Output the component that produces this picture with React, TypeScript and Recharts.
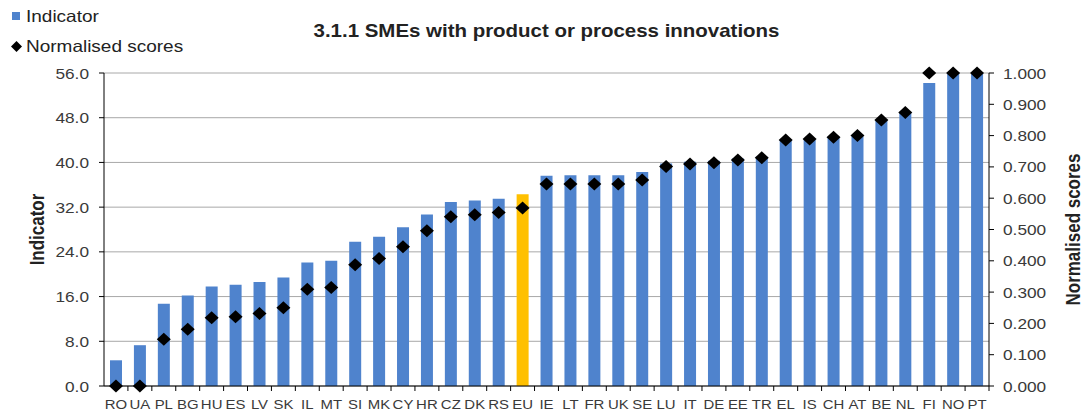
import React from 'react';
import { ComposedChart, Bar, Line, XAxis, YAxis, CartesianGrid, Cell } from 'recharts';

const categories = ['RO','UA','PL','BG','HU','ES','LV','SK','IL','MT','SI','MK','CY','HR','CZ','DK','RS','EU','IE','LT','FR','UK','SE','LU','IT','DE','EE','TR','EL','IS','CH','AT','BE','NL','FI','NO','PT'];
const indicator = [4.6,7.3,14.7,16.2,17.8,18.1,18.6,19.4,22.1,22.4,25.8,26.7,28.4,30.7,32.9,33.2,33.5,34.3,37.6,37.7,37.7,37.7,38.3,39.8,40.1,40.3,40.7,41.0,44.0,44.2,44.6,44.7,47.6,48.9,54.2,56.0,56.0];
const normalised = [0.0,0.0,0.149,0.181,0.218,0.221,0.232,0.25,0.309,0.315,0.387,0.407,0.445,0.496,0.541,0.547,0.554,0.569,0.645,0.645,0.645,0.645,0.658,0.701,0.709,0.713,0.722,0.729,0.786,0.789,0.795,0.8,0.85,0.874,1.0,1.0,1.0];
const leftTicks = [0,8,16,24,32,40,48,56];
const rightTicks = [0,0.1,0.2,0.3,0.4,0.5,0.6,0.7,0.8,0.9,1.0];
const highlight = 'EU';

const data = categories.map((c, i) => ({ name: c, indicator: indicator[i], score: normalised[i] }));

const W = 1085;
const H = 411;
const LEFT_W = 104;
const RIGHT_W = 96;
const TOP = 73;
const XH = 25;
const PLOT_W = W - LEFT_W - RIGHT_W;
const AXIS_Y = H - XH;
const STEP = PLOT_W / categories.length;
const SX = 1.15;
const BLUE = '#4F83CD';
const YELLOW = '#FFC000';
const FONT = '"Liberation Sans", Arial, sans-serif';
const TXT = '#3a3a3a';

const Diamond = (props: any) => {
  const { cx, cy } = props;
  if (cx == null || cy == null) return null;
  const rx = 7;
  const ry = 6.5;
  return <polygon points={`${cx},${cy - ry} ${cx + rx},${cy} ${cx},${cy + ry} ${cx - rx},${cy}`} fill="#000" />;
};

const XTick = (props: any) => {
  const { x, payload } = props;
  return (
    <g>
      <line x1={x + STEP / 2} x2={x + STEP / 2} y1={AXIS_Y} y2={AXIS_Y + 5} stroke="#000" strokeWidth={1} />
      <text transform={`translate(${x},${AXIS_Y + 23}) scale(${SX},1)`} textAnchor="middle" fontSize={13} fontFamily={FONT} fill={TXT}>{payload.value}</text>
    </g>
  );
};

const YTickLeft = (props: any) => {
  const { x, y, payload } = props;
  return (
    <text transform={`translate(${x},${y}) scale(${SX},1)`} textAnchor="end" dominantBaseline="central" fontSize={15} fontFamily={FONT} fill={TXT}>
      {Number(payload.value).toFixed(1)}
    </text>
  );
};

const YTickRight = (props: any) => {
  const { x, y, payload } = props;
  return (
    <text transform={`translate(${x},${y}) scale(${SX},1)`} textAnchor="start" dominantBaseline="central" fontSize={15} fontFamily={FONT} fill={TXT}>
      {Number(payload.value).toFixed(3)}
    </text>
  );
};

const axisTitle = (label: string, cx: number) => (p: any) => {
  const vb = p.viewBox;
  const cy = vb.y + vb.height / 2;
  return (
    <text
      transform={`translate(${cx},${cy}) scale(${SX},1) rotate(-90)`}
      textAnchor="middle"
      dominantBaseline="central"
      fontSize={17}
      fontWeight="bold"
      fontFamily={FONT}
      fill="#222"
    >
      {label}
    </text>
  );
};

export default function App() {
  return (
    <div style={{ position: 'relative', width: W, height: H, fontFamily: FONT }}>
      <style>{`body{margin:0}`}</style>
      <div style={{ position: 'absolute', left: 0, top: 0, width: W, height: H }}>
        <ComposedChart width={W} height={H} data={data} margin={{ top: TOP, right: 0, left: 0, bottom: 0 }} barCategoryGap={0}>
          <CartesianGrid vertical={false} stroke="#a8a8a8" strokeWidth={1} yAxisId="left" />
          <XAxis dataKey="name" interval={0} height={XH} tickLine={false} axisLine={{ stroke: '#000' }} tick={<XTick />} />
          <YAxis
            yAxisId="left"
            orientation="left"
            width={LEFT_W}
            domain={[0, 56]}
            ticks={leftTicks}
            axisLine={{ stroke: '#000' }}
            tickLine={{ stroke: '#000' }}
            tickSize={5}
            tickMargin={10}
            tick={<YTickLeft />}
            label={{ content: axisTitle('Indicator', 37) }}
          />
          <YAxis
            yAxisId="right"
            orientation="right"
            width={RIGHT_W}
            domain={[0, 1]}
            ticks={rightTicks}
            axisLine={{ stroke: '#000' }}
            tickLine={{ stroke: '#000' }}
            tickSize={5}
            tickMargin={9}
            tick={<YTickRight />}
            label={{ content: axisTitle('Normalised scores', 1073) }}
          />
          <Bar yAxisId="left" dataKey="indicator" barSize={12} isAnimationActive={false}>
            {data.map((d) => (
              <Cell key={d.name} fill={d.name === highlight ? YELLOW : BLUE} />
            ))}
          </Bar>
          <Line yAxisId="right" dataKey="score" stroke="none" dot={<Diamond />} activeDot={false} isAnimationActive={false} />
        </ComposedChart>
      </div>
      <div style={{ position: 'absolute', left: LEFT_W, top: 21, width: PLOT_W, textAlign: 'center', fontSize: 17.8, fontWeight: 'bold', color: '#222', transform: `scaleX(${SX})`, transformOrigin: 'center', whiteSpace: 'nowrap', lineHeight: '20px' }}>
        3.1.1 SMEs with product or process innovations
      </div>
      <div style={{ position: 'absolute', left: 12, top: 6, fontSize: 16.5, color: '#222', display: 'flex', alignItems: 'center', lineHeight: '20px' }}>
        <span style={{ display: 'inline-block', width: 8, height: 8, background: BLUE, marginRight: 6 }} />
        <span style={{ display: 'inline-block', transform: `scaleX(${SX})`, transformOrigin: 'left' }}>Indicator</span>
      </div>
      <div style={{ position: 'absolute', left: 11, top: 36, fontSize: 16.5, color: '#222', display: 'flex', alignItems: 'center', lineHeight: '20px' }}>
        <svg width={11} height={11} style={{ marginRight: 4 }}>
          <polygon points="5.5,0 11,5.5 5.5,11 0,5.5" fill="#000" />
        </svg>
        <span style={{ display: 'inline-block', transform: `scaleX(${SX})`, transformOrigin: 'left' }}>Normalised scores</span>
      </div>
    </div>
  );
}
